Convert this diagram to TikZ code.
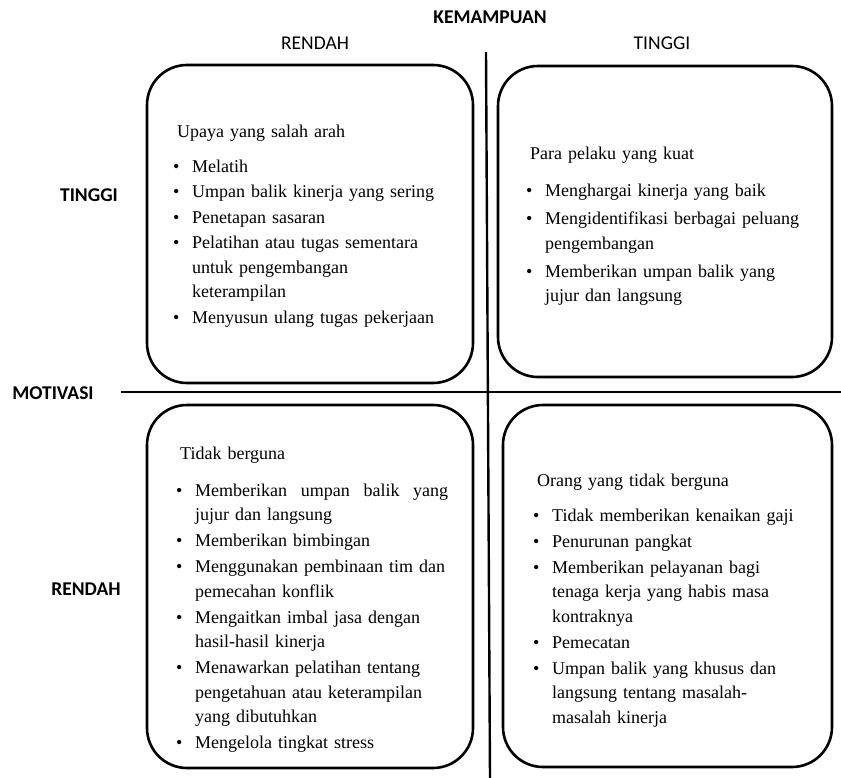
\documentclass[tikz,border=0pt]{standalone}
\usepackage{fontspec}
\setmainfont{Liberation Serif}
\newfontfamily\headfont{Carlito}
\newlength\itemgap
% one bullet point with a hanging indent
\newcommand{\bulletitem}[1]{\par\vspace{\itemgap}\hangindent=15pt\hangafter=0\noindent\llap{\makebox[19pt][l]{\textbullet}}#1}
\begin{document}
\begin{tikzpicture}[x=1pt,y=-1pt,
  quad/.style={draw=black, line width=2.6pt, rounded corners=40pt, inner sep=0pt},
  axis/.style={draw=black, line width=2.4pt},
  head/.style={font=\headfont\fontsize{19.5}{22}\selectfont, inner sep=0pt, anchor=base},
  headb/.style={head, font=\headfont\bfseries\fontsize{19.5}{22}\selectfont},
  txt/.style={font=\fontsize{18}{24.5}\selectfont, text width=310pt, align=left, inner sep=0pt, anchor=base west}]
\useasboundingbox[fill=white] (0,0) rectangle (841,778);

% axis lines
\coordinate (vtop) at (486,52);
\coordinate (vbot) at (490,778);
\coordinate (hleft) at (121,392);
\coordinate (hright) at (841,392);
\draw[axis] (vtop) -- (vbot);
\draw[axis] (hleft) -- (hright);

% axis labels
\node[headb] (kemampuan) at (490,24) {KEMAMPUAN};
\node[head] (colrendah) at (315,50) {RENDAH};
\node[head] (coltinggi) at (662,50) {TINGGI};
\node[headb] (motivasi) at (53,399) {MOTIVASI};
\node[headb] (rowtinggi) at (89,202) {TINGGI};
\node[headb] (rowrendah) at (86,595) {RENDAH};

% quadrant frames
\node[quad, minimum width=326pt, minimum height=318pt] (tl) at (310,224) {};
\node[quad, minimum width=334pt, minimum height=311pt] (tr) at (665,221.5) {};
\node[quad, minimum width=326pt, minimum height=363pt] (bl) at (310,586.5) {};
\node[quad, minimum width=329pt, minimum height=362pt] (br) at (667.5,586) {};

% quadrant texts
\node[txt] (tltext) at (177,138) {\setlength\itemgap{1pt}%
Upaya yang salah arah\par\vspace{9pt}%
\bulletitem{Melatih}%
\bulletitem{Umpan balik kinerja yang sering}%
\bulletitem{Penetapan sasaran}%
\bulletitem{Pelatihan atau tugas sementara\newline untuk pengembangan\newline keterampilan}%
\bulletitem{Menyusun ulang tugas pekerjaan}\par};

\node[txt] (trtext) at (530,160) {\setlength\itemgap{3.5pt}%
Para pelaku yang kuat\par\vspace{9pt}%
\bulletitem{Menghargai kinerja yang baik}%
\bulletitem{Mengidentifikasi berbagai peluang\newline pengembangan}%
\bulletitem{Memberikan umpan balik yang\newline jujur dan langsung}\par};

\node[txt] (bltext) at (180,459) {\setlength\itemgap{1.5pt}%
Tidak berguna\par\vspace{11pt}%
\bulletitem{\hbox to 253pt{Memberikan\hfill umpan\hfill balik\hfill yang}\newline jujur dan langsung}%
\bulletitem{Memberikan bimbingan}%
\bulletitem{Menggunakan pembinaan tim dan\newline pemecahan konflik}%
\bulletitem{Mengaitkan imbal jasa dengan\newline hasil-hasil kinerja}%
\bulletitem{Menawarkan pelatihan tentang\newline pengetahuan atau keterampilan\newline yang dibutuhkan}%
\bulletitem{Mengelola tingkat stress}\par};

\node[txt] (brtext) at (537,486) {\setlength\itemgap{1.5pt}%
Orang yang tidak berguna\par\vspace{9pt}%
\bulletitem{Tidak memberikan kenaikan gaji}%
\bulletitem{Penurunan pangkat}%
\bulletitem{Memberikan pelayanan bagi\newline tenaga kerja yang habis masa\newline kontraknya}%
\bulletitem{Pemecatan}%
\bulletitem{Umpan balik yang khusus dan\newline langsung tentang masalah-\newline masalah kinerja}\par};
\end{tikzpicture}
\end{document}
